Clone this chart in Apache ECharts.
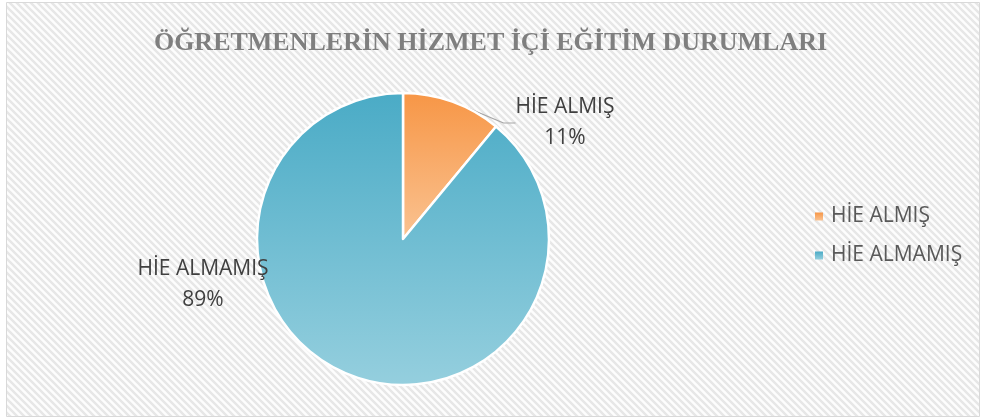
<!DOCTYPE html>
<html>
<head>
<meta charset="utf-8">
<script src="https://cdn.jsdelivr.net/npm/echarts@6/dist/echarts.min.js"></script>
<style>
  html, body { margin: 0; padding: 0; background: #fff; }
  #chart { width: 981px; height: 420px; }
</style>
</head>
<body>
<div id="chart"></div>
<script>
// data
const titleText = 'ÖĞRETMENLERİN HİZMET İÇİ EĞİTİM DURUMLARI'
const categories = ['HİE ALMIŞ', 'HİE ALMAMIŞ']
const values = [11, 89]

// diagonal hatch used by Excel-like chart area
function hatch() {
  const c = document.createElement('canvas')
  c.width = 7
  c.height = 7
  const ctx = c.getContext('2d')
  ctx.fillStyle = '#fdfdfd'
  ctx.fillRect(0, 0, 7, 7)
  ctx.strokeStyle = '#e7e7e7'
  ctx.lineWidth = 2.4
  ctx.beginPath()
  ctx.moveTo(-7, -7); ctx.lineTo(14, 14)
  ctx.moveTo(-7, 0); ctx.lineTo(7, 14)
  ctx.moveTo(0, -7); ctx.lineTo(14, 7)
  ctx.stroke()
  return c
}

function grad(top, bottom) {
  return new echarts.graphic.LinearGradient(0, 0, 0, 1, [
    { offset: 0, color: top },
    { offset: 1, color: bottom }
  ])
}

const colors = [grad('#f79646', '#fac392'), grad('#4aabc6', '#95cfde')]

const chart = echarts.init(document.getElementById('chart'))
chart.setOption({
  animation: false,
  graphic: [{
    type: 'rect',
    z: -10,
    shape: { x: 6.5, y: 2.5, width: 973, height: 414 },
    style: { fill: { image: hatch(), repeat: 'repeat' }, stroke: '#d9d9d9', lineWidth: 1 }
  }],
  title: {
    text: titleText,
    left: 'center',
    top: 25,
    textStyle: {
      fontFamily: 'Liberation Serif',
      fontWeight: 'bold',
      fontSize: 26,
      color: '#7f7f7f'
    }
  },
  legend: {
    orient: 'vertical',
    left: 810,
    top: 201,
    icon: 'rect',
    itemWidth: 8,
    itemHeight: 8,
    itemGap: 18,
    itemStyle: { borderWidth: 0 },
    textStyle: { fontFamily: 'Open Sans', fontSize: 21, color: '#595959', padding: [0, 0, 0, 3] },
    data: categories
  },
  series: [{
    type: 'pie',
    center: [403, 239],
    radius: 146,
    startAngle: 90,
    clockwise: true,
    itemStyle: { borderColor: '#fff', borderWidth: 2.5 },
    label: {
      position: 'outside',
      formatter: '{b}\n{d}%',
      fontFamily: 'Open Sans',
      fontSize: 21,
      lineHeight: 31,
      color: '#404040',
      align: 'center'
    },
    labelLine: { show: true, length: 12, length2: 12, lineStyle: { color: '#a6a6a6', width: 1.2 } },
    labelLayout: function (p) {
      if (p.dataIndex === 0) {
        return { x: 565, y: 123, align: 'center', verticalAlign: 'middle' }
      }
      return { x: 203, y: 285, align: 'center', verticalAlign: 'middle' }
    },
    data: categories.map(function (name, i) {
      return {
        name: name,
        value: values[i],
        itemStyle: { color: colors[i] },
        labelLine: { show: i === 0 }
      }
    })
  }]
})
</script>
</body>
</html>
